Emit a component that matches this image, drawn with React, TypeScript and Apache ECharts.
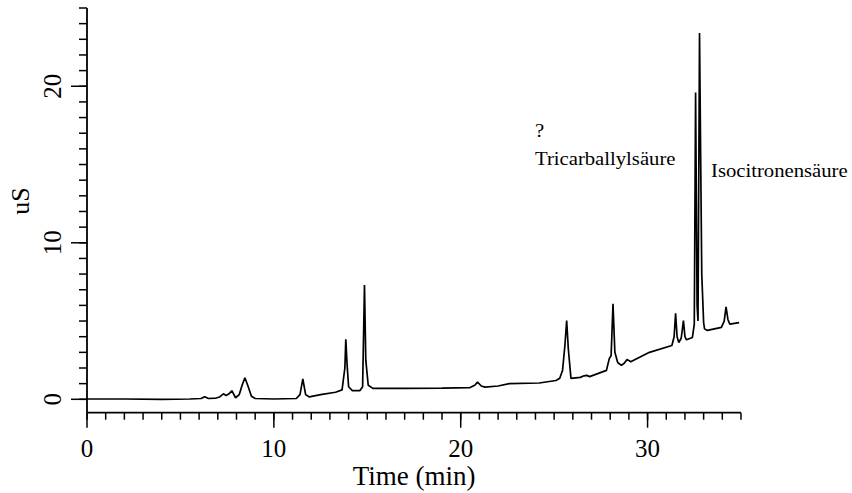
import React, { useEffect, useRef } from "react";
import * as echarts from "echarts";

// Chromatogram trace (time in min, conductivity in uS)
const timeMin = [
  0, 2, 4, 5.5, 6.1, 6.3, 6.5, 6.9, 7.1, 7.3, 7.45, 7.6, 7.75, 7.95, 8.15, 8.3, 8.45, 8.6, 8.8, 9.0,
  10, 11.2, 11.4, 11.55, 11.7, 11.9, 12.5, 13.3, 13.65, 13.8, 13.85, 13.92, 14.0, 14.2, 14.6, 14.75,
  14.85, 14.92, 15.05, 15.3, 17, 19, 20.5, 20.75, 20.9, 21.1, 21.3, 22.0, 22.6, 24.2, 25.1, 25.3,
  25.45, 25.58, 25.67, 25.76, 25.9, 26.4, 26.6, 26.75, 26.9, 27.8, 27.95, 28.05, 28.15, 28.25, 28.4,
  28.6, 28.75, 28.9, 29.1, 30.1, 31.3, 31.42, 31.5, 31.58, 31.67, 31.8, 31.92, 32.0, 32.08, 32.4,
  32.5, 32.57, 32.65, 32.7, 32.78, 32.9, 33.0, 33.05, 33.2, 33.95, 34.1, 34.2, 34.3, 34.4, 34.9,
];
const signalUS = [
  0.02, 0.02, 0.0, 0.02, 0.05, 0.17, 0.05, 0.08, 0.15, 0.35, 0.25, 0.35, 0.55, 0.1, 0.3, 0.9, 1.38, 0.9, 0.2, 0.05,
  0.02, 0.05, 0.3, 1.3, 0.3, 0.15, 0.3, 0.45, 0.6, 2.0, 3.83, 2.2, 0.8, 0.55, 0.55, 0.8,
  7.3, 2.5, 0.9, 0.7, 0.7, 0.72, 0.75, 0.9, 1.1, 0.85, 0.78, 0.85, 1.0, 1.04, 1.2, 1.35,
  1.85, 3.5, 5.03, 3.2, 1.34, 1.4, 1.5, 1.53, 1.45, 1.85, 2.6, 2.8, 6.1, 3.0, 2.35,
  2.17, 2.3, 2.55, 2.4, 3.0, 3.44, 4.0, 5.5, 4.0, 3.63, 3.9, 5.03, 4.0, 3.8, 3.95,
  4.8, 19.6, 6.0, 5.0, 23.4, 8.0, 4.9, 4.5, 4.4, 4.6, 5.0, 5.9, 5.1, 4.8, 4.9,
];

// Axis ranges and tick values
const xRange = [0, 35];
const yRange = [-0.856, 25];
const xTickValues = [
  0, 1, 2, 3, 4, 5, 6, 7, 8, 9, 10, 11, 12, 13, 14, 15, 16, 17, 18, 19, 20, 21, 22, 23, 24, 25,
  26, 27, 28, 29, 30, 31, 32, 33, 34, 35,
];
const xLabelValues = [0, 10, 20, 30];
const yTickValues = [
  0, 1, 2, 3, 4, 5, 6, 7, 8, 9, 10, 11, 12, 13, 14, 15, 16, 17, 18, 19, 20, 21, 22, 23, 24, 25,
];
const yLabelValues = [0, 10, 20];

const xAxisTitle = "Time (min)";
const yAxisTitle = "uS";
const peakNotes = ["?", "Tricarballylsäure", "Isocitronensäure"];

export default function App() {
  const ref = useRef<HTMLDivElement>(null);
  useEffect(() => {
    const chart = echarts.init(ref.current!, null, { renderer: "svg" });
    const font = "'Liberation Serif', 'Times New Roman', serif";
    const data = timeMin.map((t, i) => [t, signalUS[i]]);

    // plot-area geometry (the axes frame), and padding so that ticks and
    // tick labels lie inside the grid that carries them
    const left = 87;
    const top = 8;
    const width = 654;
    const height = 404.7;
    const padL = 52;
    const padR = 6;
    const padT = 4;
    const padB = 60;
    const pxPerX = width / (xRange[1] - xRange[0]);
    const pxPerY = height / (yRange[1] - yRange[0]);

    const lineStyle = { stroke: "#000", lineWidth: 1.5 };
    const axisStroke = { stroke: "#000", lineWidth: 1.8 };
    const labelStyle = { fill: "#000", fontSize: 25, fontFamily: font };

    chart.setOption({
      animation: false,
      backgroundColor: "#fff",
      textStyle: { fontFamily: font },
      grid: {
        left: left - padL,
        top: top - padT,
        width: width + padL + padR,
        height: height + padT + padB,
        containLabel: false,
        outerBoundsMode: "none",
      },
      xAxis: {
        type: "value",
        min: xRange[0] - padL / pxPerX,
        max: xRange[1] + padR / pxPerX,
        show: false,
      },
      yAxis: {
        type: "value",
        min: yRange[0] - padB / pxPerY,
        max: yRange[1] + padT / pxPerY,
        show: false,
      },
      series: [
        {
          type: "line",
          data,
          showSymbol: false,
          symbol: "none",
          silent: true,
          z: 2,
          lineStyle: { color: "#000", width: 1.7 },
        },
        {
          // axis lines
          type: "custom",
          silent: true,
          clip: false,
          z: 3,
          data: [[xRange[0], yRange[0]]],
          encode: { x: 0, y: 1 },
          renderItem: (params: any, api: any) => {
            const o = api.coord([api.value(0), api.value(1)]);
            const xe = api.coord([xRange[1], yRange[0]]);
            const ye = api.coord([xRange[0], yRange[1]]);
            return {
              type: "group",
              children: [
                { type: "line", shape: { x1: o[0], y1: o[1], x2: xe[0], y2: xe[1] }, style: axisStroke },
                { type: "line", shape: { x1: o[0], y1: o[1], x2: ye[0], y2: ye[1] }, style: axisStroke },
              ],
            };
          },
        },
        {
          // minor x ticks
          type: "custom",
          silent: true,
          clip: false,
          z: 3,
          data: xTickValues.map((v) => [v, yRange[0]]),
          encode: { x: 0, y: 1 },
          renderItem: (params: any, api: any) => {
            const p = api.coord([api.value(0), api.value(1)]);
            return { type: "line", shape: { x1: p[0], y1: p[1], x2: p[0], y2: p[1] + 7 }, style: lineStyle };
          },
        },
        {
          // major x ticks with labels
          type: "custom",
          silent: true,
          clip: false,
          z: 3,
          data: xLabelValues.map((v) => [v, yRange[0]]),
          encode: { x: 0, y: 1 },
          renderItem: (params: any, api: any) => {
            const v = api.value(0);
            const p = api.coord([v, api.value(1)]);
            return {
              type: "group",
              children: [
                { type: "line", shape: { x1: p[0], y1: p[1], x2: p[0], y2: p[1] + 15 }, style: lineStyle },
                {
                  type: "text",
                  x: p[0],
                  y: p[1] + 23,
                  style: { ...labelStyle, text: String(v), align: "center", verticalAlign: "top" },
                },
              ],
            };
          },
        },
        {
          // minor y ticks
          type: "custom",
          silent: true,
          clip: false,
          z: 3,
          data: yTickValues.map((v) => [xRange[0], v]),
          encode: { x: 0, y: 1 },
          renderItem: (params: any, api: any) => {
            const p = api.coord([api.value(0), api.value(1)]);
            return { type: "line", shape: { x1: p[0] - 8, y1: p[1], x2: p[0], y2: p[1] }, style: lineStyle };
          },
        },
        {
          // major y ticks with rotated labels
          type: "custom",
          silent: true,
          clip: false,
          z: 3,
          data: yLabelValues.map((v) => [xRange[0], v]),
          encode: { x: 0, y: 1 },
          renderItem: (params: any, api: any) => {
            const v = api.value(1);
            const p = api.coord([api.value(0), v]);
            return {
              type: "group",
              children: [
                { type: "line", shape: { x1: p[0] - 16, y1: p[1], x2: p[0], y2: p[1] }, style: lineStyle },
                {
                  type: "text",
                  x: p[0] - 35,
                  y: p[1],
                  rotation: Math.PI / 2,
                  style: { ...labelStyle, text: String(v), align: "center", verticalAlign: "middle" },
                },
              ],
            };
          },
        },
      ],
      graphic: [
        {
          type: "text",
          x: 414,
          y: 476,
          style: { text: xAxisTitle, fontSize: 27, fontFamily: font, fill: "#000", align: "center", verticalAlign: "middle" },
        },
        {
          type: "text",
          x: 20,
          y: 201,
          rotation: Math.PI / 2,
          style: { text: yAxisTitle, fontSize: 26, fontFamily: font, fill: "#000", align: "center", verticalAlign: "middle" },
        },
        {
          type: "text",
          x: 535,
          y: 131,
          scaleX: 1.15,
          style: { text: peakNotes[0], fontSize: 18, fontFamily: font, fill: "#000", align: "left", verticalAlign: "middle" },
        },
        {
          type: "text",
          x: 535,
          y: 159,
          scaleX: 1.15,
          style: { text: peakNotes[1], fontSize: 18, fontFamily: font, fill: "#000", align: "left", verticalAlign: "middle" },
        },
        {
          type: "text",
          x: 711,
          y: 171,
          scaleX: 1.15,
          style: { text: peakNotes[2], fontSize: 18, fontFamily: font, fill: "#000", align: "left", verticalAlign: "middle" },
        },
      ],
    });
    return () => chart.dispose();
  }, []);
  return (
    <div
      ref={ref}
      style={{ position: "absolute", left: 0, top: 0, width: 852, height: 493, background: "#fff" }}
    />
  );
}
